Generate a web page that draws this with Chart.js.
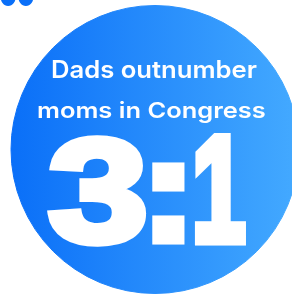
<!DOCTYPE html>
<html>
<head>
<meta charset="utf-8">
<script src="https://cdn.jsdelivr.net/npm/chart.js@4"></script>
<style>
  html, body { margin: 0; padding: 0; background: #fff; overflow: hidden; }
  #wrap { position: relative; width: 310px; height: 296px; }
</style>
</head>
<body>
<div id="wrap"><canvas id="ratioChart" width="310" height="296"></canvas></div>
<script>
/* Data */
const parents = ['Dads', 'Moms'];
const ratio = [3, 1];
const headline = ['Dads outnumber', 'moms in Congress'];
const titleTail = 'ss';

/* Colours */
const blueLeft = '#0a6ff8';
const blueRight = '#44aaff';

function circleGradient(chart) {
  const area = chart.chartArea;
  if (!area) return blueLeft;
  const g = chart.ctx.createLinearGradient(area.left, 0, area.right, 0);
  g.addColorStop(0, blueLeft);
  g.addColorStop(1, blueRight);
  return g;
}

/* draw text fitted into a box (glyph ink box), optional thickening stroke */
function fitBox(ctx, text, left, top, right, bottom, stroke) {
  const m = ctx.measureText(text);
  const s = stroke || 0;
  const w = m.actualBoundingBoxLeft + m.actualBoundingBoxRight;
  const h = m.actualBoundingBoxAscent + m.actualBoundingBoxDescent;
  const sx = (right - left - s) / w;
  const sy = (bottom - top - s) / h;
  ctx.save();
  ctx.translate(left + s / 2, top + s / 2);
  ctx.scale(sx, sy);
  ctx.textAlign = 'left';
  ctx.textBaseline = 'alphabetic';
  const x = m.actualBoundingBoxLeft, y = m.actualBoundingBoxAscent;
  if (s) {
    ctx.lineWidth = s / Math.max(sx, sy);
    ctx.lineJoin = 'miter';
    ctx.strokeStyle = ctx.fillStyle;
    ctx.strokeText(text, x, y);
  }
  ctx.fillText(text, x, y);
  ctx.restore();
}

// ink boxes for the big ratio glyphs: [left, top, right, bottom, thickening]
const bigBoxes = [[47, 133, 146, 247, 9], [152, 162, 185, 245, 10], [193, 132, 248, 245, 9]];

const circleText = {
  id: 'circleText',
  afterDatasetsDraw(chart) {
    const ctx = chart.ctx;
    ctx.save();
    ctx.fillStyle = '#ffffff';

    ctx.font = '600 25px Inter';
    fitBox(ctx, headline[0], 52, 60, 257, 78);
    fitBox(ctx, headline[1], 38, 100, 265, 123);

    ctx.font = 'bold 150px "Liberation Sans"';
    ratio.join(':').split('').forEach((ch, i) => {
      const b = bigBoxes[i];
      fitBox(ctx, ch, b[0], b[1], b[2], b[3], b[4]);
    });

    // cut-off title above the chart
    ctx.fillStyle = blueLeft;
    ctx.font = '800 40px Inter';
    fitBox(ctx, titleTail, 0, -28, 34, 4.5);
    ctx.restore();
  }
};

new Chart(document.getElementById('ratioChart'), {
  type: 'pie',
  data: {
    labels: parents,
    datasets: [{
      data: ratio,
      backgroundColor: ctx => circleGradient(ctx.chart),
      borderColor: ctx => circleGradient(ctx.chart),
      borderWidth: 1,
      hoverOffset: 0
    }]
  },
  options: {
    responsive: false,
    animation: false,
    layout: { padding: { left: 10.5, right: 10.5, top: 4.5, bottom: 1.5 } },
    plugins: {
      legend: { display: false },
      tooltip: { enabled: false }
    }
  },
  plugins: [circleText]
});
</script>
</body>
</html>
